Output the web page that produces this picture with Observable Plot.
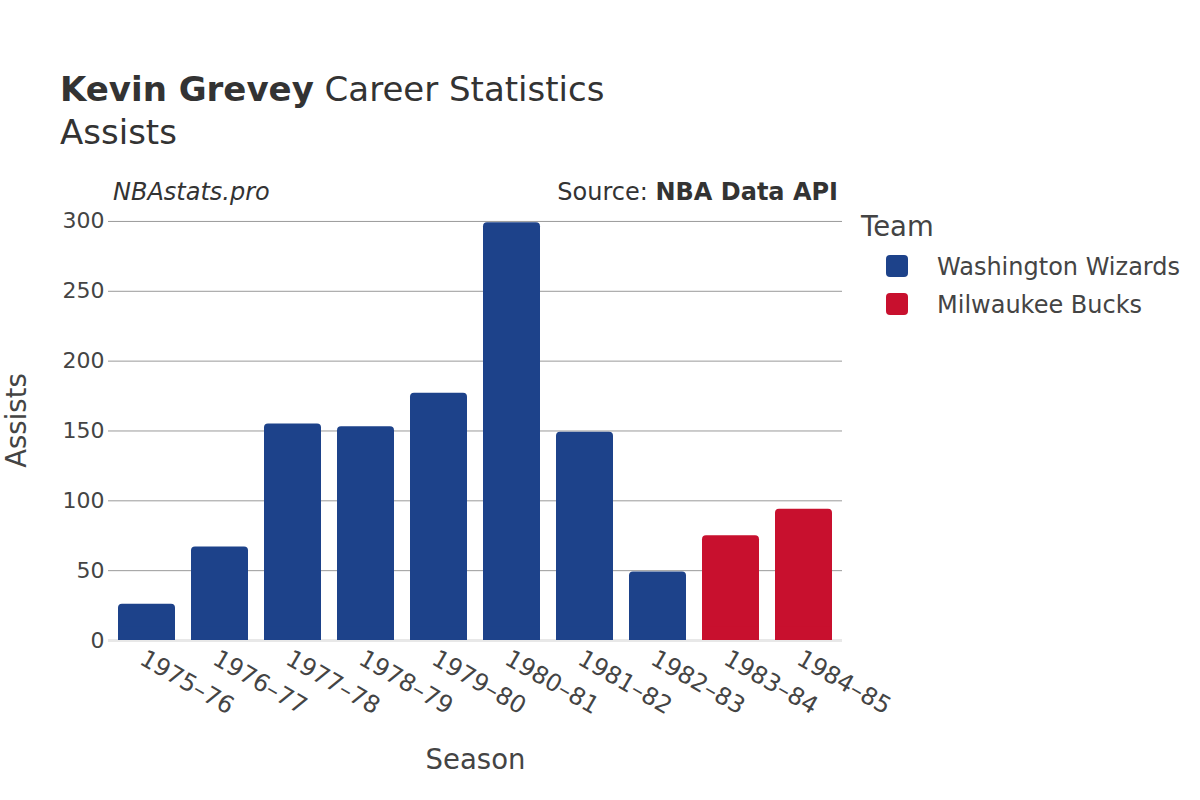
<!DOCTYPE html>
<html><head><meta charset="utf-8">
<script src="https://cdn.jsdelivr.net/npm/d3@7"></script>
<script src="https://cdn.jsdelivr.net/npm/@observablehq/plot@0.6"></script>
<style>
body{margin:0;background:#fff;font-family:"DejaVu Sans",sans-serif;color:#444}
#wrap{position:relative;width:1200px;height:800px;overflow:hidden}
#wrap svg{position:absolute;left:0;top:0}
.abs{position:absolute;line-height:1;white-space:nowrap}
</style></head><body><div id="wrap"></div>
<script>
const seasons = ["1975–76","1976–77","1977–78","1978–79","1979–80","1980–81","1981–82","1982–83","1983–84","1984–85"];
const assists = [26,67,155,153,177,299,149,49,75,94];
const teams = ["Washington Wizards","Washington Wizards","Washington Wizards","Washington Wizards","Washington Wizards","Washington Wizards","Washington Wizards","Washington Wizards","Milwaukee Bucks","Milwaukee Bucks"];
const teamNames = ["Washington Wizards","Milwaukee Bucks"];
const teamColors = ["#1d428a","#c8102e"];
const yTicks = [0,50,100,150,200,250,300];
const gridTicks = [50,100,150,200,250,300];

const data = seasons.map((s,i)=>({season:s, assists:assists[i], team:teams[i]}));

const chart = Plot.plot({
  width:1200, height:800,
  marginLeft:108, marginRight:358, marginTop:200, marginBottom:160,
  style:{fontFamily:"DejaVu Sans", color:"#444", background:"transparent"},
  x:{domain:seasons, type:"band", paddingInner:0.22, paddingOuter:0.11},
  y:{domain:[0,315]},
  color:{domain:teamNames, range:teamColors},
  marks:[
    Plot.gridY(gridTicks,{stroke:"#9a9a9a", strokeOpacity:1, strokeWidth:1}),
    Plot.ruleY([0],{stroke:"#e8e8e8", strokeWidth:3}),
    Plot.barY(data,{x:"season", y:"assists", fill:"team", rx:4}),
    Plot.barY(data,{x:"season", y1:0, y2:d=>Math.min(d.assists,10), fill:"team"}),
    Plot.axisY(yTicks,{tickSize:0, tickPadding:4, fontSize:22, label:"Assists", labelArrow:"none", labelAnchor:"center", labelOffset:102, fill:"#444"}),
    Plot.axisX({tickSize:0, tickPadding:16, tickRotate:30, fontSize:24, dx:-5, label:"Season", labelArrow:"none", labelAnchor:"center", labelOffset:128, fill:"#444"})
  ]
});
const wrap = document.getElementById("wrap");
wrap.appendChild(chart);
chart.querySelectorAll('[aria-label="y-axis label"], [aria-label="x-axis label"]').forEach(g=>{
  g.setAttribute("font-size","27.5");
  g.querySelectorAll("text").forEach(t=>t.setAttribute("font-size","27.5"));
});

function addText(html, left, baseline, size, extra){
  const d = document.createElement("div");
  d.className="abs";
  d.innerHTML = html;
  d.style.left = left+"px";
  d.style.top = (baseline - 0.846*size)+"px";
  d.style.fontSize = size+"px";
  if(extra) Object.assign(d.style, extra);
  wrap.appendChild(d);
  return d;
}
addText('<b>Kevin Grevey</b> Career Statistics', 60, 101, 34, {color:"#333"});
addText('Assists', 60, 144, 34, {color:"#333"});
addText('<i>NBAstats.pro</i>', 113, 200, 24, {color:"#333"});
const src = addText('Source: <b>NBA Data API</b>', 0, 200, 24, {color:"#333"});
src.style.left = "auto"; src.style.right = (1200-838)+"px";
addText('Team', 861, 236, 27.5, {color:"#444"});
teamNames.forEach((n,i)=>{
  const b = 275 + i*38;
  const sw = document.createElement("div");
  sw.style.cssText = `position:absolute;left:886px;top:${b-20}px;width:22px;height:22px;border-radius:4px;background:${teamColors[i]}`;
  wrap.appendChild(sw);
  addText(n, 937, b, 24, {color:"#444"});
});
</script></body></html>
